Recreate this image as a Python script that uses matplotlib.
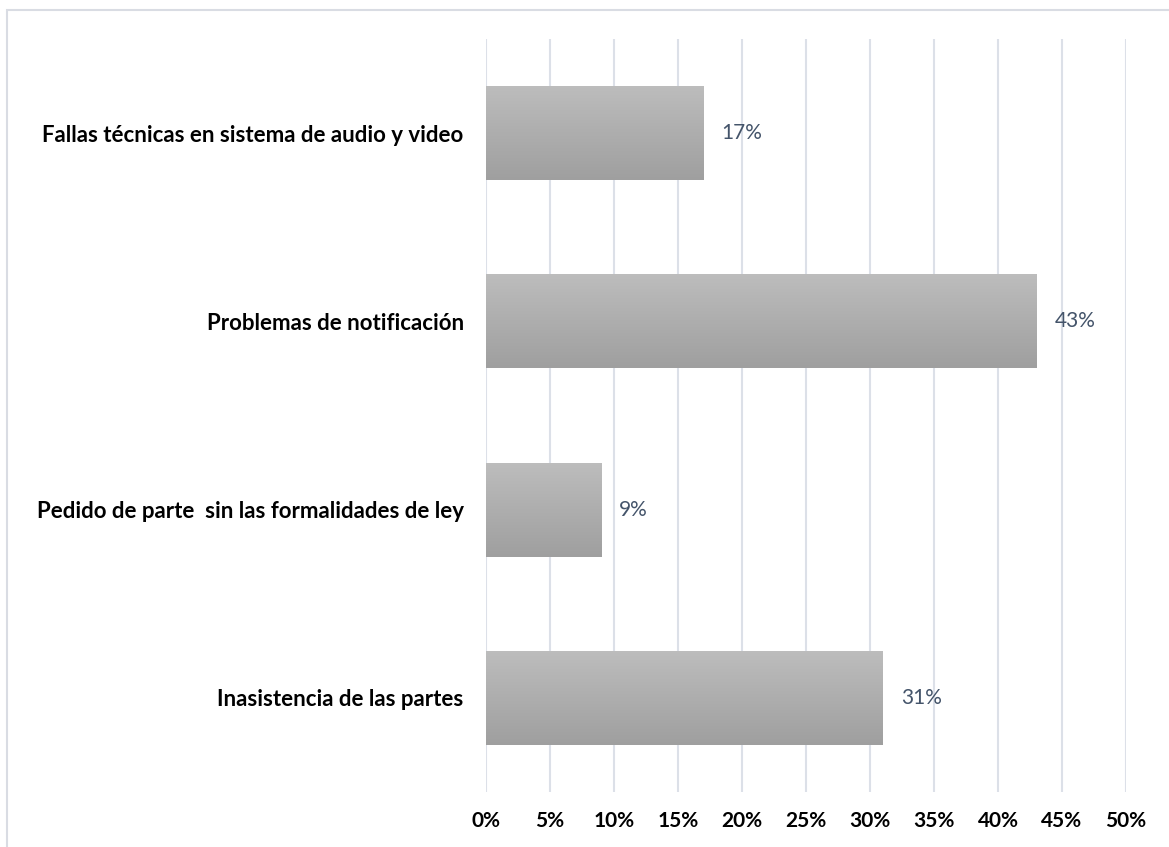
import numpy as np
import matplotlib.pyplot as plt
from matplotlib.patches import Rectangle
from matplotlib.colors import LinearSegmentedColormap

categorias = [
  "Fallas técnicas en sistema de audio y video",
  "Problemas de notificación",
  "Pedido de parte  sin las formalidades de ley",
  "Inasistencia de las partes",
]
valores = [0.17, 0.43, 0.09, 0.31]
etiquetas = ["17%", "43%", "9%", "31%"]
ticks = [0, 0.05, 0.10, 0.15, 0.20, 0.25, 0.30, 0.35, 0.40, 0.45, 0.50]
tick_labels = ["0%", "5%", "10%", "15%", "20%", "25%", "30%", "35%", "40%", "45%", "50%"]

plt.rcParams['font.family'] = ['Lato', 'DejaVu Sans']

fig = plt.figure(figsize=(11.69, 8.47), dpi=100)
ax = fig.add_axes([0.4157, 0.0649, 0.5475, 0.8891])

# marco claro de la figura (arriba e izquierda)
fig.patches.append(Rectangle((7 / 1169, -0.1), 1.2, 1.1 - 10 / 847,
                             transform=fig.transFigure, fill=False,
                             edgecolor='#D9DCE3', linewidth=1.5))

y = np.arange(len(categorias))
bars = ax.barh(y, valores, height=0.5, color='#B0B0B0', zorder=2)

# degradado gris de arriba hacia abajo
grad = np.linspace(0, 1, 256).reshape(-1, 1)
cmap = LinearSegmentedColormap.from_list('gris', ['#BDBDBD', '#9F9F9F'])
for b in bars:
  x0, y0 = b.get_x(), b.get_y()
  w, h = b.get_width(), b.get_height()
  im = ax.imshow(grad, cmap=cmap, aspect='auto', zorder=3,
                 extent=(x0, x0 + w, y0 + h, y0))
  im.set_clip_path(b)

for yi, v, lab in zip(y, valores, etiquetas):
  ax.text(v + 0.014, yi, lab, va='center', ha='left', fontsize=15,
          color='#44546A', zorder=4)

ax.set_xlim(0, 0.5)
ax.set_ylim(len(categorias) - 0.5, -0.5)
ax.set_xticks(ticks)
ax.set_xticklabels(tick_labels, fontsize=15, fontweight='bold')
ax.set_yticks(y)
ax.set_yticklabels(categorias, fontsize=16, fontweight='bold')
ax.tick_params(axis='x', length=0, pad=14)
ax.tick_params(axis='y', length=0, pad=16)
ax.grid(axis='x', color='#DCE0E8', linewidth=1.5, zorder=0)
ax.set_axisbelow(True)
for s in ax.spines.values():
  s.set_visible(False)

fig.savefig('out.png', dpi=100)
